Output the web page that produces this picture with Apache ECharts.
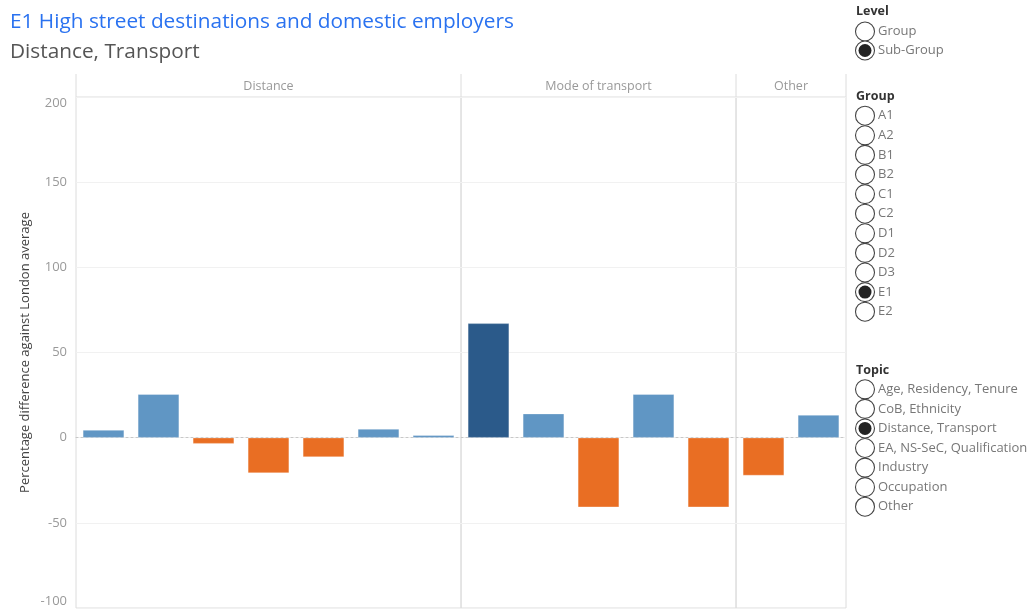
<!DOCTYPE html>
<html>
<head>
<meta charset="utf-8">
<script src="https://cdn.jsdelivr.net/npm/echarts@6/dist/echarts.min.js"></script>
<style>
  html, body { margin: 0; padding: 0; background: #fff; }
  #chart { width: 1035px; height: 611px; }
</style>
</head>
<body>
<div id="chart"></div>
<script>
// data
const panelNames = ['Distance', 'Mode of transport', 'Other'];
const distanceValues = [4.5, 25.5, -3.5, -20.8, -11.4, 5.1, 1.4];
const transportValues = [67.1, 14.1, -40.8, 25.5, -40.8];
const otherValues = [-22.2, 13.3];
const yMin = -100, yMax = 200, yStep = 50;

// filter panel on the right
const levelOptions = ['Group', 'Sub-Group'];
const groupOptions = ['A1', 'A2', 'B1', 'B2', 'C1', 'C2', 'D1', 'D2', 'D3', 'E1', 'E2'];
const topicOptions = ['Age, Residency, Tenure', 'CoB, Ethnicity', 'Distance, Transport',
  'EA, NS-SeC, Qualification', 'Industry', 'Occupation', 'Other'];
const selected = { level: 'Sub-Group', group: 'E1', topic: 'Distance, Transport' };

const FONT = 'Open Sans';
const myechart = echarts.init(document.getElementById('chart'));

// panel layout
const plotLeft = 76, plotTop = 97, plotBottom = 608, band = 55;
const panelData = [distanceValues, transportValues, otherValues];
let x = plotLeft;
const panels = panelData.map((vals, i) => {
  const p = { left: x, width: vals.length * band, name: panelNames[i], values: vals };
  x += p.width;
  return p;
});

function barColor(v) {
  if (v >= 50) return '#2b5a8a';
  if (v >= 0) return '#6096c4';
  return '#e96e23';
}

const grids = panels.map(p => ({
  left: p.left, top: plotTop, width: p.width, height: plotBottom - plotTop,
  show: true, borderColor: '#dcdcdc', borderWidth: 1
}));

const xAxes = panels.map((p, i) => ({
  type: 'category',
  gridIndex: i,
  data: p.values.map((_, k) => String(k + 1)),
  axisTick: { show: false },
  axisLabel: { show: false },
  axisLine: { onZero: true, lineStyle: { color: '#c8c8c8', type: [2, 3], width: 1 } }
}));

const yAxes = panels.map((p, i) => ({
  type: 'value',
  gridIndex: i,
  min: yMin, max: yMax, interval: yStep,
  name: i === 0 ? 'Percentage difference against London average' : '',
  nameLocation: 'middle',
  nameGap: 44,
  nameTextStyle: { color: '#444', fontSize: 13, fontFamily: FONT },
  axisLine: { show: false },
  axisTick: { show: false },
  axisLabel: {
    show: i === 0, color: '#999', fontSize: 13, fontFamily: FONT, margin: 9,
    verticalAlignMinLabel: 'bottom', verticalAlignMaxLabel: 'top'
  },
  splitLine: { lineStyle: { color: '#f1f1f1', width: 1 } }
}));

const series = panels.map((p, i) => ({
  type: 'bar',
  xAxisIndex: i,
  yAxisIndex: i,
  barCategoryGap: '25%',
  data: p.values.map(v => ({ value: v, itemStyle: { color: barColor(v) } })),
  itemStyle: { borderColor: 'rgba(255,255,255,0.6)', borderWidth: 0.5 }
}));

// header strip above the panels + the filter widgets
const graphics = [];
const headTop = 74;
panels.forEach(p => {
  graphics.push({ type: 'line', shape: { x1: p.left, y1: headTop, x2: p.left, y2: plotTop }, style: { stroke: '#dcdcdc', lineWidth: 1 } });
  graphics.push({ type: 'text', x: p.left + p.width / 2, y: 86,
    style: { text: p.name, fill: '#999', font: '12.5px ' + FONT, textAlign: 'center', textVerticalAlign: 'middle' } });
});
const lastP = panels[panels.length - 1];
graphics.push({ type: 'line', shape: { x1: lastP.left + lastP.width, y1: headTop, x2: lastP.left + lastP.width, y2: plotTop }, style: { stroke: '#dcdcdc', lineWidth: 1 } });

function addFilter(title, options, pick, y0, firstY, step) {
  graphics.push({ type: 'text', x: 856, y: y0,
    style: { text: title, fill: '#333', font: 'bold 12.5px ' + FONT, textVerticalAlign: 'middle' } });
  options.forEach((opt, k) => {
    const cy = firstY + k * step;
    graphics.push({ type: 'circle', shape: { cx: 865, cy: cy, r: 9.5 }, style: { fill: '#fff', stroke: '#444', lineWidth: 1.1 } });
    if (opt === pick) {
      graphics.push({ type: 'circle', shape: { cx: 865, cy: cy, r: 6.5 }, style: { fill: '#222' } });
    }
    graphics.push({ type: 'text', x: 878, y: cy,
      style: { text: opt, fill: '#777', font: '13px ' + FONT, textVerticalAlign: 'middle' } });
  });
}
addFilter('Level', levelOptions, selected.level, 11.5, 31.5, 19);
addFilter('Group', groupOptions, selected.group, 96.5, 115.7, 19.6);
addFilter('Topic', topicOptions, selected.topic, 370, 389.3, 19.57);

const option = {
  animation: false,
  title: [
    { text: 'E1 High street destinations and domestic employers', left: 5, top: 7,
      textStyle: { color: '#2a72f0', fontSize: 20.8, fontWeight: 'normal', fontFamily: FONT } },
    { text: 'Distance, Transport', left: 5, top: 37,
      textStyle: { color: '#555', fontSize: 20.8, fontWeight: 'normal', fontFamily: FONT } }
  ],
  grid: grids,
  xAxis: xAxes,
  yAxis: yAxes,
  series: series,
  graphic: graphics
};
myechart.setOption(option);

window.addEventListener('resize', () => {
  myechart && myechart.resize();
});
</script>
</body>
</html>
